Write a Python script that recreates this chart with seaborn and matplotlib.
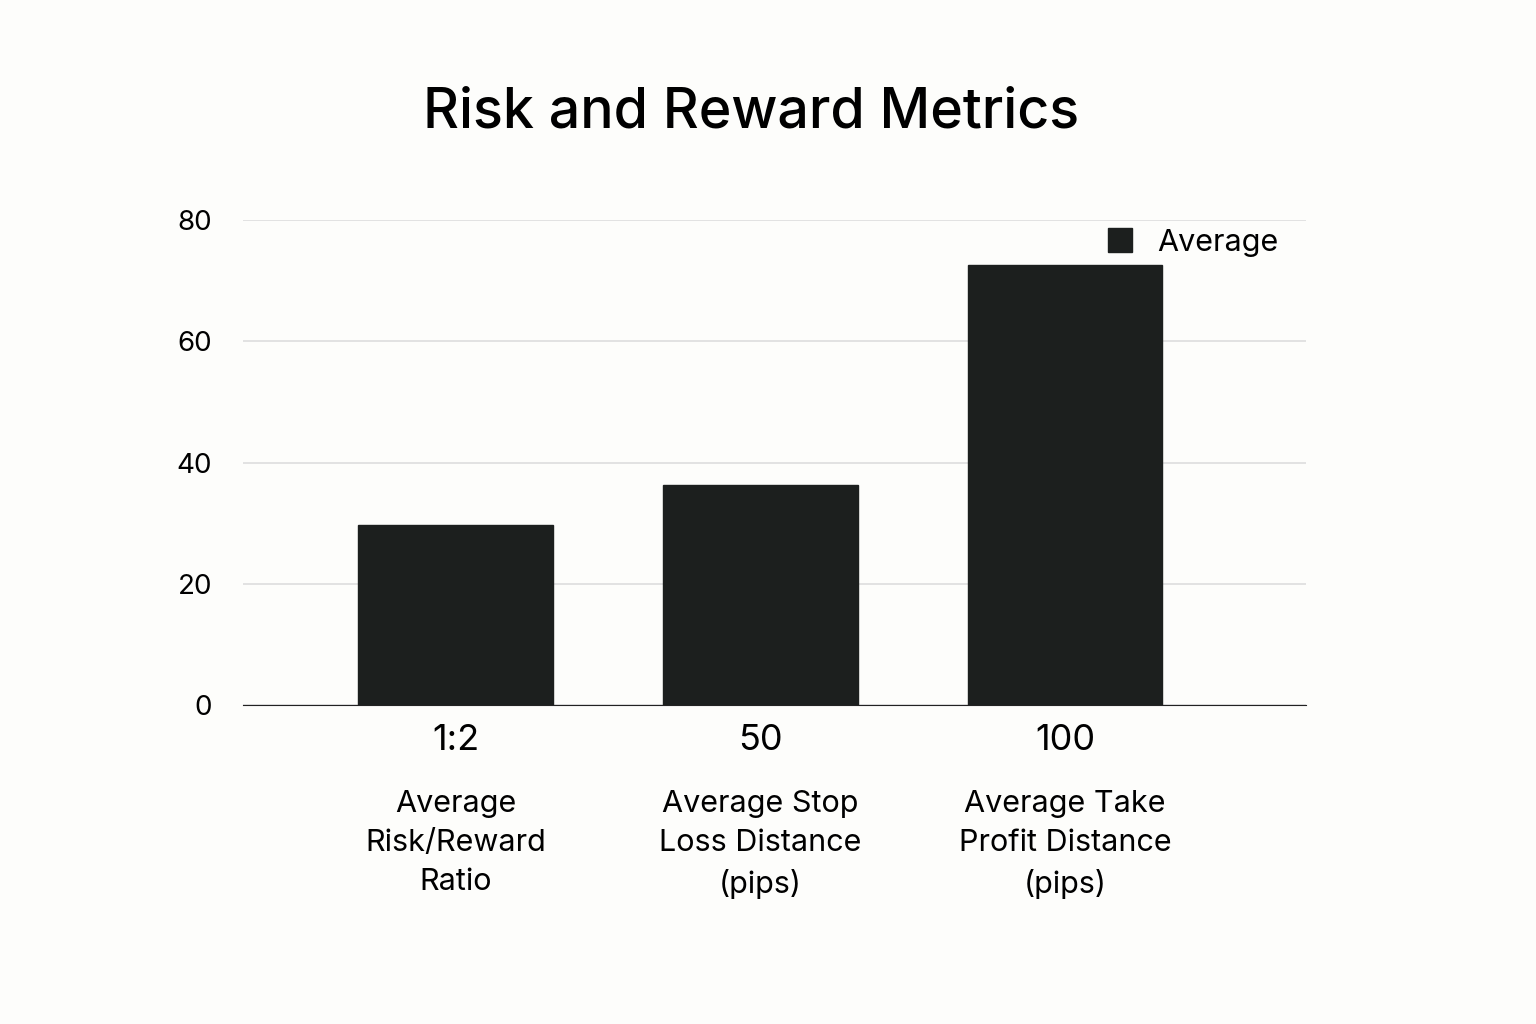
import matplotlib
matplotlib.use("Agg")
import matplotlib.pyplot as plt
import pandas as pd
import seaborn as sns

# data
tick_labels = ["1:2", "50", "100"]
categories = ["Average\nRisk/Reward\nRatio",
              "Average Stop\nLoss Distance\n(pips)",
              "Average Take\nProfit Distance\n(pips)"]
values = [29.7, 36.3, 72.6]

df = pd.DataFrame({"tick": tick_labels, "value": values})

plt.rcParams["font.family"] = "Inter"
bg = "#fdfdfb"
fig = plt.figure(figsize=(15.36, 10.24), dpi=100, facecolor=bg)
ax = fig.add_axes([0.158, 0.3115, 0.692, 0.4735], facecolor=bg)

sns.barplot(data=df, x="tick", y="value", color="#1c1f1e", width=0.64,
            saturation=1, ax=ax, label="Average", zorder=3)
for p in ax.patches:
    p.set_edgecolor("#1c1f1e")

ax.set_xlim(-0.70, 2.79)
ax.set_ylim(0, 80)
ax.set_yticks([0, 20, 40, 60, 80])
ax.grid(axis="y", color="#dddddd", linewidth=1.2, zorder=0)
ax.set_xlabel("")
ax.set_ylabel("")
for s in ["top", "right", "left"]:
    ax.spines[s].set_visible(False)
ax.spines["bottom"].set_color("#222222")
ax.tick_params(axis="y", length=0, labelsize=20, pad=22)
ax.tick_params(axis="x", length=0, labelsize=26, pad=14)

# category descriptions under the tick labels
for i, c in enumerate(categories):
    xf, _ = fig.transFigure.inverted().transform(ax.transData.transform((i, 0)))
    fig.text(xf, 1 - 790 / 1024, c, ha="center", va="top", fontsize=22,
             linespacing=1.5)

ax.legend(loc="upper right", bbox_to_anchor=(1.0, 1.04), frameon=False,
          fontsize=22, handlelength=0.8, handleheight=0.8, handletextpad=0.8)

fig.text(0.489, 1 - 112 / 1024, "Risk and Reward Metrics", ha="center",
         va="center", fontsize=40, fontweight="medium")

fig.savefig("out.png", dpi=100, facecolor=bg)
